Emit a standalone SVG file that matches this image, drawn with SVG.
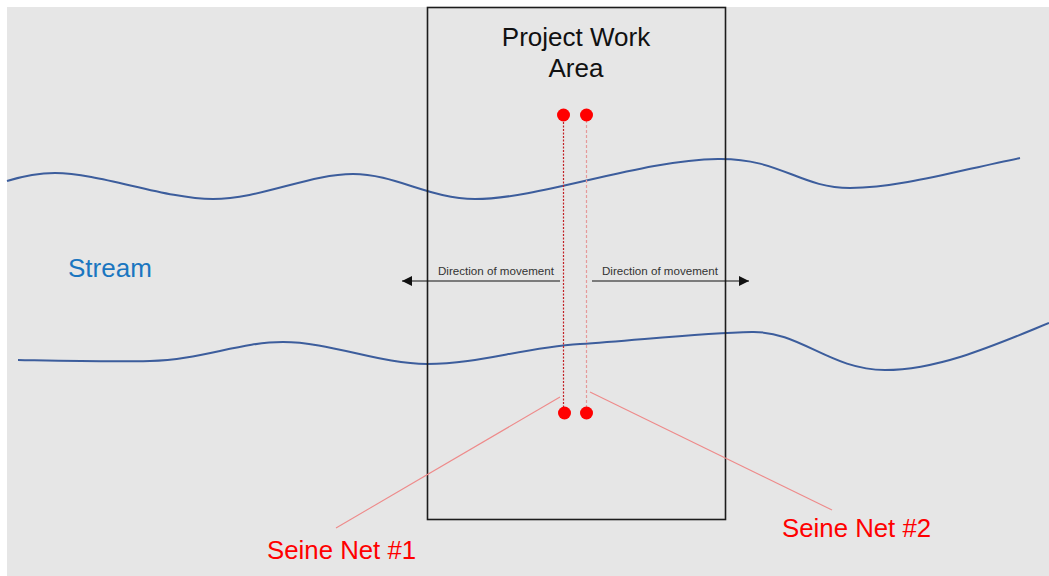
<svg xmlns="http://www.w3.org/2000/svg" width="1049" height="576" viewBox="0 0 1049 576">
  <defs>
    <marker id="arrowHead" viewBox="0 0 10 10" refX="10" refY="5" markerWidth="10" markerHeight="10" markerUnits="userSpaceOnUse" orient="auto">
      <path d="M0,0 L10,5 L0,10 z" fill="#111"/>
    </marker>
    <style>
      .bank { fill: none; stroke: #3c5d9c; stroke-width: 2; }
      .area { fill: none; stroke: #1c1c1c; stroke-width: 1.6; }
      .net1 { stroke: #c21f24; stroke-width: 1.2; stroke-dasharray: 2 1.5; }
      .net2 { stroke: #e59a9a; stroke-width: 1.2; stroke-dasharray: 3 2; }
      .post { fill: #ff0000; }
      .move { stroke: #111; stroke-width: 1.1; marker-end: url(#arrowHead); }
      .leader { stroke: #ee8a8a; stroke-width: 1.1; }
      .title { font-family: "Liberation Sans", Arial, sans-serif; font-size: 26px; fill: #111; text-anchor: middle; }
      .small { font-family: "Liberation Sans", Arial, sans-serif; font-size: 11.6px; fill: #333; }
      .stream { font-family: "Liberation Sans", Arial, sans-serif; font-size: 26px; fill: #1a76c0; }
      .label { font-family: "Liberation Sans", Arial, sans-serif; font-size: 25.8px; fill: #ff0000; }
    </style>
  </defs>

  <!-- canvas -->
  <rect x="0" y="0" width="1049" height="576" fill="#ffffff"/>
  <rect x="7" y="7" width="1042" height="569" fill="#e6e6e6"/>

  <!-- stream banks -->
  <g id="stream">
    <path class="bank" d="M7,181 C20,177 35,173 55,173 C100,173 165,199 213,199 C260,199 310,174 353,174 C395,174 430,199 475,199 C540,199 640,160 718,159 C780,158 800,188 850,188 C900,188 960,170 1020,158"/>
    <path class="bank" d="M18,360 C70,361 110,362 150,361 C200,360 240,342 283,342 C330,342 380,364 427,364 C480,364 520,348 580,344 C640,340 700,333 752,332 C800,331 830,370 885,370 C940,370 1000,343 1049,323"/>
    <text class="stream" x="68" y="277">Stream</text>
  </g>

  <!-- work area -->
  <g id="work-area">
    <rect class="area" x="427.5" y="7.5" width="298" height="512"/>
    <text class="title" x="576" y="46">Project Work</text>
    <text class="title" x="576" y="77">Area</text>
  </g>

  <!-- seine nets -->
  <g id="seine-net-1">
    <line class="net1" x1="563.5" y1="115" x2="563.5" y2="413"/>
    <circle class="post" cx="563.5" cy="115" r="6.5"/>
    <circle class="post" cx="564.5" cy="413" r="6.5"/>
    <text class="label" x="267" y="559">Seine Net #1</text>
  </g>
  <g id="seine-net-2">
    <line class="net2" x1="586.5" y1="115" x2="586.5" y2="413"/>
    <circle class="post" cx="586.5" cy="115" r="6.5"/>
    <circle class="post" cx="586.5" cy="413" r="6.5"/>
    <text class="label" x="782" y="537">Seine Net #2</text>
  </g>

  <!-- movement labels -->
  <g id="direction-left">
    <text class="small" x="438" y="275">Direction of movement</text>
  </g>
  <g id="direction-right">
    <text class="small" x="602" y="275">Direction of movement</text>
  </g>

  <!-- connectors -->
  <g id="connectors">
    <line class="move" x1="560" y1="281" x2="402" y2="281"/>
    <line class="move" x1="592" y1="281" x2="749" y2="281"/>
    <line class="leader" x1="560" y1="397" x2="336" y2="528"/>
    <line class="leader" x1="590" y1="392" x2="832" y2="510"/>
  </g>
</svg>
